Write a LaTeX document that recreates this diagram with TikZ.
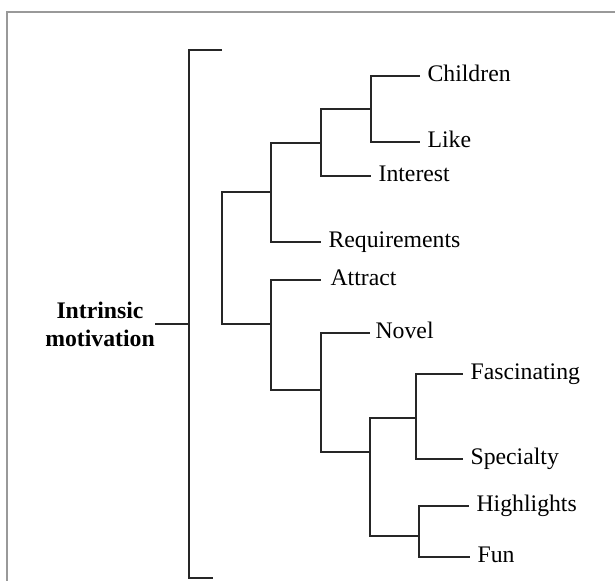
\documentclass[tikz,border=0pt]{standalone}
\usepackage{fontspec}
\setmainfont{Liberation Serif}
\usetikzlibrary{positioning}

\begin{document}
\begin{tikzpicture}[
  x=0.75pt, y=-0.75pt,
  link/.style={line width=1.6pt, black!85},
  leaf/.style={anchor=west, inner xsep=5.5pt, inner ysep=0pt, text height=0.8em, text depth=0pt, font=\fontsize{17.8}{21}\selectfont},
  rootlbl/.style={anchor=east, inner xsep=0pt, align=center, font=\fontsize{17.8}{21}\selectfont\bfseries},
  frame/.style={line width=0.8pt, black!40}
]
\useasboundingbox (0,0) rectangle (615,581);
\draw[frame] (7,581) -- (7,12) -- (615,12);

% root and bracket
\node[rootlbl] (root) at (155,324) {Intrinsic\\motivation};
\coordinate (brtop) at (222,50);
\coordinate (brmid) at (189,324);
\coordinate (brbot) at (213,578);
\draw[link] (root.east) -- (brmid);
\draw[link] (brtop) -| (brmid) |- (brbot);

% junctions
\coordinate (top) at (222,258);
\coordinate (upper) at (271,192);
\coordinate (lower) at (271,324);
\coordinate (intr) at (321,143);
\coordinate (pair) at (371,109);
\coordinate (novj) at (321,390);
\coordinate (restj) at (370,452);
\coordinate (fasj) at (416,418);
\coordinate (higj) at (419,536);

% leaves
\node[leaf] (children) at (420,76) {Children};
\node[leaf] (like) at (420,142) {Like};
\node[leaf] (interest) at (371,176) {Interest};
\node[leaf] (req) at (321,242) {Requirements};
\node[leaf, inner xsep=7pt] (attract) at (321,280) {Attract};
\node[leaf, inner xsep=4pt] (novel) at (370,333) {Novel};
\node[leaf] (fasc) at (463,374) {Fascinating};
\node[leaf] (spec) at (463,459) {Specialty};
\node[leaf] (high) at (469,506) {Highlights};
\node[leaf] (fun) at (470,557) {Fun};

% links
\draw[link] (top) |- (upper);
\draw[link] (top) |- (lower);
\draw[link] (upper) |- (intr);
\draw[link] (upper) |- (req.west);
\draw[link] (intr) |- (pair);
\draw[link] (intr) |- (interest.west);
\draw[link] (pair) |- (children.west);
\draw[link] (pair) |- (like.west);
\draw[link] (lower) |- (attract.west);
\draw[link] (lower) |- (novj);
\draw[link] (novj) |- (novel.west);
\draw[link] (novj) |- (restj);
\draw[link] (restj) |- (fasj);
\draw[link] (restj) |- (higj);
\draw[link] (fasj) |- (fasc.west);
\draw[link] (fasj) |- (spec.west);
\draw[link] (higj) |- (high.west);
\draw[link] (higj) |- (fun.west);
\end{tikzpicture}
\end{document}
